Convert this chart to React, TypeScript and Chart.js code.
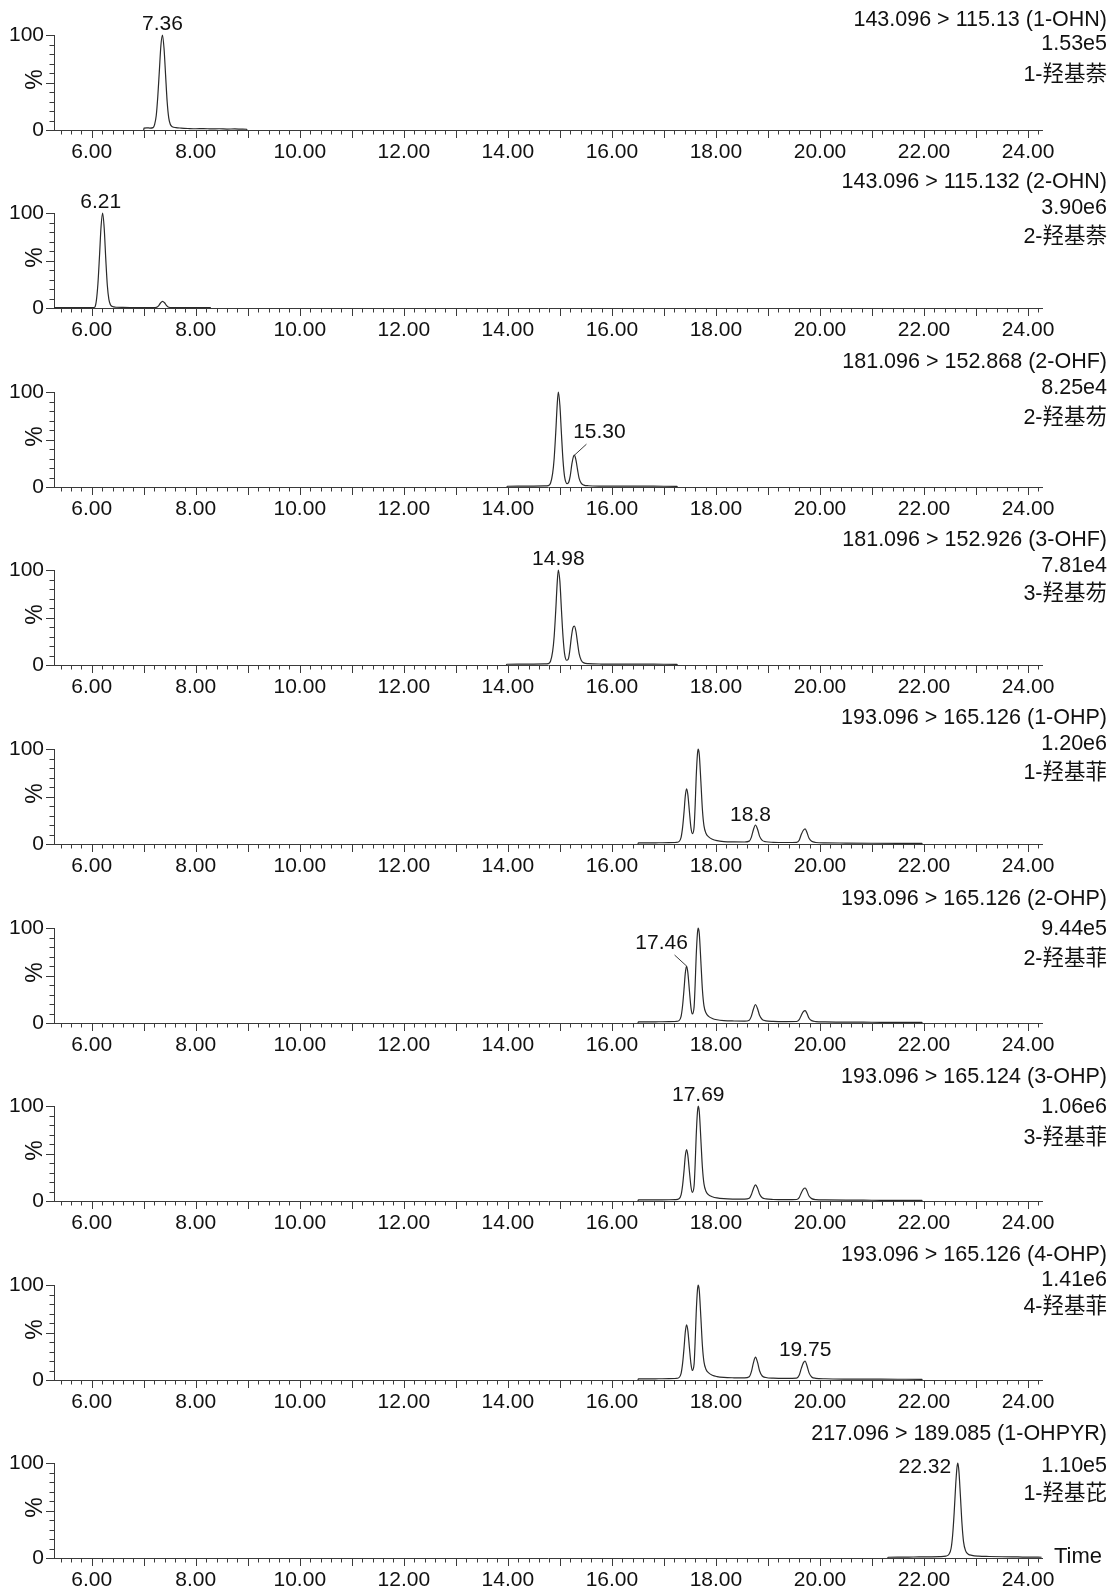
import React, { useEffect, useRef } from 'react';
import { Chart, registerables } from 'chart.js';

Chart.register(...registerables);

type Pt = [number, number];

// ---------------- data ----------------
const TRANSITIONS = [
  '143.096 > 115.13 (1-OHN)',
  '143.096 > 115.132 (2-OHN)',
  '181.096 > 152.868 (2-OHF)',
  '181.096 > 152.926 (3-OHF)',
  '193.096 > 165.126 (1-OHP)',
  '193.096 > 165.126 (2-OHP)',
  '193.096 > 165.124 (3-OHP)',
  '193.096 > 165.126 (4-OHP)',
  '217.096 > 189.085 (1-OHPYR)',
];
const INTENSITIES = ['1.53e5', '3.90e6', '8.25e4', '7.81e4', '1.20e6', '9.44e5', '1.06e6', '1.41e6', '1.10e5'];
const COMPOUNDS = ['1-羟基萘', '2-羟基萘', '2-羟基芴', '3-羟基芴', '1-羟基菲', '2-羟基菲', '3-羟基菲', '4-羟基菲', '1-羟基芘'];

const X_TICK_LABELS = ['6.00', '8.00', '10.00', '12.00', '14.00', '16.00', '18.00', '20.00', '22.00', '24.00'];
const Y_TICK_LABELS = ['0', '100'];
const X_AXIS_TITLE = 'Time';
const Y_AXIS_TITLE = '%';

const TRACE_1OHN: Pt[] = [
  [7.0, 0], [7.005, 2], [7.06, 2.3], [7.12, 2], [7.18, 2.5], [7.21, 6], [7.24, 15], [7.27, 35], [7.3, 62],
  [7.33, 89], [7.36, 100], [7.39, 86], [7.42, 58], [7.45, 30], [7.48, 13], [7.51, 6], [7.55, 3.5],
  [7.62, 2.5], [7.72, 2], [7.85, 1.6], [8.0, 1.3], [8.15, 1.5], [8.3, 1.1], [8.45, 1.3], [8.6, 1],
  [8.75, 1.1], [8.9, 0.9], [8.98, 0.8], [8.985, 0],
];
const TRACE_2OHN: Pt[] = [
  [5.28, 0.3], [5.6, 0.3], [5.9, 0.3], [6.03, 0.4], [6.06, 1], [6.09, 8], [6.12, 26], [6.15, 55],
  [6.18, 86], [6.21, 100], [6.24, 84], [6.27, 52], [6.3, 24], [6.33, 9], [6.36, 3.5], [6.4, 1.5],
  [6.46, 0.8], [6.6, 0.6], [6.8, 0.5], [7.0, 0.4], [7.2, 0.4], [7.24, 0.6], [7.28, 2], [7.32, 5],
  [7.36, 7], [7.4, 5.5], [7.44, 2.5], [7.48, 0.8], [7.55, 0.4], [7.8, 0.3], [8.29, 0.3],
];
const TRACE_2OHF: Pt[] = [
  [13.98, 0], [13.99, 0.8], [14.2, 0.9], [14.5, 1], [14.7, 1.1], [14.78, 1.5], [14.82, 4], [14.86, 14],
  [14.89, 30], [14.92, 57], [14.95, 88], [14.97, 100], [15.0, 86], [15.03, 56], [15.06, 28], [15.09, 11],
  [15.14, 3.5], [15.17, 5], [15.2, 12], [15.23, 24], [15.26, 32], [15.28, 33.5], [15.31, 28], [15.34, 18],
  [15.37, 9], [15.41, 4], [15.46, 2], [15.55, 1.3], [15.8, 1], [16.2, 0.9], [16.6, 0.9], [17.0, 0.8],
  [17.25, 0.7], [17.26, 0],
];
const TRACE_3OHF: Pt[] = [
  [13.97, 0], [13.98, 0.8], [14.2, 0.9], [14.5, 1], [14.7, 1.1], [14.78, 1.5], [14.82, 4], [14.86, 14],
  [14.89, 30], [14.92, 57], [14.95, 88], [14.97, 100], [15.0, 88], [15.03, 58], [15.06, 30], [15.09, 12],
  [15.13, 5], [15.16, 6], [15.19, 15], [15.22, 29], [15.25, 39], [15.28, 41], [15.31, 35], [15.34, 23],
  [15.37, 12], [15.41, 5], [15.46, 2.2], [15.55, 1.4], [15.8, 1], [16.2, 0.9], [16.6, 0.9], [17.0, 0.8],
  [17.25, 0.7], [17.26, 0],
];
const TRACE_1OHP: Pt[] = [
  [16.5, 0], [16.51, 1.2], [16.7, 1.2], [16.9, 1.3], [17.1, 1.4], [17.22, 1.6], [17.29, 2.5], [17.33, 7],
  [17.36, 18], [17.39, 36], [17.41, 50], [17.435, 58], [17.46, 52], [17.49, 34], [17.52, 17], [17.55, 11],
  [17.58, 18], [17.6, 40], [17.62, 70], [17.645, 95], [17.66, 100], [17.68, 94], [17.71, 66], [17.74, 36],
  [17.77, 19], [17.81, 11], [17.86, 7.5], [17.93, 5], [18.02, 3.5], [18.15, 2.6], [18.35, 2.2], [18.55, 2.1],
  [18.64, 3], [18.68, 7], [18.72, 15], [18.76, 20], [18.8, 15.5], [18.84, 8], [18.89, 3.8], [18.96, 2.4],
  [19.1, 1.8], [19.35, 1.6], [19.55, 1.8], [19.6, 4], [19.64, 10], [19.68, 14.5], [19.715, 16], [19.75, 12],
  [19.79, 6], [19.84, 2.8], [19.92, 1.6], [20.1, 1.2], [20.5, 1], [21.0, 0.8], [21.5, 0.7], [21.96, 0.6],
  [21.965, 0],
];
const TRACE_2OHP: Pt[] = [
  [16.5, 0], [16.51, 1.2], [16.7, 1.2], [16.9, 1.3], [17.1, 1.4], [17.22, 1.6], [17.29, 2.5], [17.33, 7],
  [17.36, 19], [17.39, 38], [17.41, 52], [17.435, 60], [17.46, 53], [17.49, 34], [17.52, 16], [17.545, 9.5],
  [17.58, 17], [17.6, 40], [17.62, 70], [17.645, 95], [17.66, 100], [17.68, 94], [17.71, 65], [17.74, 35],
  [17.77, 18], [17.81, 10.5], [17.86, 7], [17.93, 4.8], [18.02, 3.4], [18.15, 2.5], [18.35, 2.1], [18.55, 2],
  [18.64, 3], [18.68, 7], [18.72, 14.5], [18.76, 19.5], [18.8, 15], [18.84, 7.8], [18.89, 3.7], [18.96, 2.3],
  [19.1, 1.7], [19.35, 1.5], [19.55, 1.6], [19.6, 3.5], [19.64, 8], [19.68, 12], [19.715, 13], [19.75, 10],
  [19.79, 5], [19.84, 2.5], [19.92, 1.5], [20.1, 1.1], [20.5, 0.9], [21.0, 0.8], [21.5, 0.7], [21.96, 0.6],
  [21.965, 0],
];
const TRACE_3OHP: Pt[] = [
  [16.5, 0], [16.51, 1.1], [16.7, 1.1], [16.9, 1.2], [17.1, 1.3], [17.22, 1.5], [17.29, 2.4], [17.33, 6.5],
  [17.36, 17], [17.39, 34], [17.41, 47], [17.435, 54], [17.46, 48], [17.49, 31], [17.52, 15], [17.545, 9],
  [17.58, 16], [17.6, 38], [17.62, 68], [17.645, 94], [17.66, 100], [17.68, 94], [17.71, 65], [17.74, 35],
  [17.77, 18], [17.81, 10], [17.86, 6.5], [17.93, 4.5], [18.02, 3.2], [18.15, 2.4], [18.35, 2], [18.55, 1.9],
  [18.64, 2.8], [18.68, 6.5], [18.72, 13], [18.76, 17], [18.8, 13.5], [18.84, 7], [18.89, 3.4], [18.96, 2.2],
  [19.1, 1.6], [19.35, 1.4], [19.55, 1.6], [19.6, 3.6], [19.64, 8.5], [19.68, 12.5], [19.715, 13.7], [19.75, 10.5],
  [19.79, 5.2], [19.84, 2.5], [19.92, 1.4], [20.1, 1.1], [20.5, 0.9], [21.0, 0.8], [21.5, 0.7], [21.96, 0.6],
  [21.965, 0],
];
const TRACE_4OHP: Pt[] = [
  [16.5, 0], [16.51, 1.2], [16.7, 1.2], [16.9, 1.3], [17.1, 1.4], [17.22, 1.6], [17.29, 2.5], [17.33, 7],
  [17.36, 18], [17.39, 36], [17.41, 50], [17.435, 58], [17.46, 52], [17.49, 34], [17.52, 17], [17.545, 10],
  [17.58, 17], [17.6, 40], [17.62, 70], [17.645, 95], [17.66, 100], [17.68, 94], [17.71, 66], [17.74, 36],
  [17.77, 19], [17.81, 11], [17.86, 7.5], [17.93, 5], [18.02, 3.6], [18.15, 2.7], [18.35, 2.3], [18.55, 2.2],
  [18.64, 3.4], [18.68, 8.5], [18.72, 18], [18.76, 24], [18.8, 18.5], [18.84, 9.5], [18.89, 4.2], [18.96, 2.6],
  [19.1, 1.9], [19.35, 1.7], [19.55, 2], [19.6, 5], [19.64, 12], [19.68, 18], [19.715, 20], [19.75, 15],
  [19.79, 7.5], [19.84, 3.2], [19.92, 1.8], [20.1, 1.3], [20.5, 1], [21.0, 0.9], [21.5, 0.8], [21.96, 0.7],
  [21.965, 0],
];
const TRACE_1OHPYR: Pt[] = [
  [21.3, 0], [21.31, 0.8], [21.5, 0.9], [21.7, 1], [21.9, 1.1], [22.1, 1.2], [22.3, 1.4], [22.42, 2],
  [22.48, 4], [22.52, 10], [22.55, 24], [22.58, 48], [22.61, 78], [22.635, 96], [22.65, 100], [22.67, 92],
  [22.7, 65], [22.73, 36], [22.76, 17], [22.8, 7.5], [22.85, 4], [22.92, 2.8], [23.05, 2], [23.25, 1.6],
  [23.5, 1.3], [23.8, 1.1], [24.05, 0.9], [24.26, 0.8],
];

const TRACES: Pt[][] = [
  TRACE_1OHN, TRACE_2OHN, TRACE_2OHF, TRACE_3OHF, TRACE_1OHP, TRACE_2OHP, TRACE_3OHP, TRACE_4OHP, TRACE_1OHPYR,
];

// peak annotations: panel, label text, apex time, apex %
const PEAK_PANEL = [0, 1, 2, 3, 4, 5, 6, 7, 8];
const PEAK_TEXT = ['7.36', '6.21', '15.30', '14.98', '18.8', '17.46', '17.69', '19.75', '22.32'];
const PEAK_TIME = [7.36, 6.21, 15.28, 14.97, 18.76, 17.435, 17.66, 19.715, 22.65];
const PEAK_HEIGHT = [100, 100, 33.5, 100, 20, 60, 100, 20, 100];

// ---------------- layout / style ----------------
const W = 1113;
const FIRST_TOP = 34.6; // y of 100% line of panel 1
const PANEL_STEP = 178.6;
const PLOT_H = 95;
const HEAD = 60;
const X_AXIS_H = 50;
const CANVAS_H = HEAD + PLOT_H + X_AXIS_H;
const PLOT_LEFT = 54;
const PLOT_RIGHT = 1042;
const X_MIN = 5.275;
const X_MAX = 24.268;
const MINOR_STEP_TENTHS = 2;
const FONT = '"Liberation Sans", Arial, Helvetica, sans-serif';
const CJK_FONT = '"Liberation Sans", "Noto Sans CJK SC", sans-serif';
const FONT_SIZE = 21;
const TITLE_FONT_SIZE = 21.5;
const PCT_FONT_SIZE = 23;
const TIME_FONT_SIZE = 22;
const AXIS_COLOR = '#3a3a3a';
const LINE_COLOR = '#2a2a2a';
const TEXT_COLOR = '#111';
const TITLE_RIGHT = 1107;
const TITLE_DY: number[][] = [
  [-15, 9, 40],
  [-31, -5, 24.5],
  [-30, -4, 26],
  [-30, -4, 24.5],
  [-31, -5, 24.5],
  [-29, 1, 31],
  [-29, 1, 32],
  [-30, -5, 22.5],
  [-29, 3, 31],
];
// label center offset from apex pixel, optional leader end offset
const LABEL_LAYOUT: { dx: number; dy: number; leader?: [number, number] }[] = [
  { dx: 0, dy: -11 },
  { dx: -2, dy: -11 },
  { dx: 25, dy: -23, leader: [12, -11] },
  { dx: 0, dy: -11 },
  { dx: -5, dy: -10 },
  { dx: -25, dy: -23, leader: [-12, -11] },
  { dx: 0, dy: -11 },
  { dx: 0, dy: -11 },
  { dx: -33, dy: 4 },
];

const X_TICK_VALUES = X_TICK_LABELS.map(Number);
const Y_TICK_VALUES = Y_TICK_LABELS.map(Number);

function makeDecor(index: number) {
  return {
    id: 'decor' + index,
    afterDraw(chart: any) {
      const { ctx, chartArea } = chart;
      const xs = chart.scales.x;
      const ys = chart.scales.y;
      ctx.save();
      ctx.strokeStyle = AXIS_COLOR;
      ctx.lineWidth = 1;
      ctx.beginPath();
      for (const tk of xs.ticks) {
        const px = Math.round(xs.getPixelForValue(tk.value)) + 0.5;
        const major = Math.abs(tk.value - Math.round(tk.value)) < 1e-6;
        ctx.moveTo(px, chartArea.bottom);
        ctx.lineTo(px, chartArea.bottom + (major ? 8 : 4.5));
      }
      for (const tk of ys.ticks) {
        const py = Math.round(ys.getPixelForValue(tk.value)) + 0.5;
        const major = tk.value % 50 === 0;
        ctx.moveTo(chartArea.left, py);
        ctx.lineTo(chartArea.left - (major ? 8 : 4.5), py);
      }
      ctx.stroke();

      ctx.fillStyle = TEXT_COLOR;
      ctx.textBaseline = 'middle';
      // y title
      ctx.save();
      ctx.font = `${PCT_FONT_SIZE}px ${FONT}`;
      ctx.translate(36, ys.getPixelForValue(50) - 3);
      ctx.rotate(-Math.PI / 2);
      ctx.textAlign = 'center';
      ctx.fillText(Y_AXIS_TITLE, 0, 0);
      ctx.restore();

      // titles
      const y100 = ys.getPixelForValue(100);
      const dy = TITLE_DY[index];
      ctx.textAlign = 'right';
      ctx.font = `${TITLE_FONT_SIZE}px ${FONT}`;
      ctx.fillText(TRANSITIONS[index], TITLE_RIGHT, y100 + dy[0]);
      ctx.fillText(INTENSITIES[index], TITLE_RIGHT, y100 + dy[1]);
      ctx.font = `${TITLE_FONT_SIZE}px ${CJK_FONT}`;
      ctx.fillText(COMPOUNDS[index], TITLE_RIGHT, y100 + dy[2]);

      // peak labels
      ctx.font = `${FONT_SIZE}px ${FONT}`;
      PEAK_PANEL.forEach((p, k) => {
        if (p !== index) return;
        const ax = xs.getPixelForValue(PEAK_TIME[k]);
        const ay = ys.getPixelForValue(PEAK_HEIGHT[k]);
        const lay = LABEL_LAYOUT[k];
        ctx.textAlign = 'center';
        ctx.fillText(PEAK_TEXT[k], ax + lay.dx, ay + lay.dy);
        if (lay.leader) {
          ctx.beginPath();
          ctx.moveTo(ax, ay);
          ctx.lineTo(ax + lay.leader[0], ay + lay.leader[1]);
          ctx.strokeStyle = AXIS_COLOR;
          ctx.stroke();
        }
      });

      if (index === TRACES.length - 1) {
        ctx.textAlign = 'left';
        ctx.font = `${TIME_FONT_SIZE}px ${FONT}`;
        ctx.fillText(X_AXIS_TITLE, chartArea.right + 12, ys.getPixelForValue(0) - 1);
      }
      ctx.restore();
    },
  };
}

function Panel({ index }: { index: number }) {
  const ref = useRef<HTMLCanvasElement>(null);
  useEffect(() => {
    const canvas = ref.current;
    if (!canvas) return;
    const minorTicks: number[] = [];
    const start = Math.ceil((X_MIN * 10) / MINOR_STEP_TENTHS) * MINOR_STEP_TENTHS;
    for (let t = start; t <= X_MAX * 10 + 1e-9; t += MINOR_STEP_TENTHS) minorTicks.push(t / 10);
    const yTicks: number[] = [];
    for (let v = 0; v <= 100; v += 10) yTicks.push(v);

    const chart = new Chart(canvas, {
      type: 'line',
      data: {
        datasets: [
          {
            data: TRACES[index].map(([x, y]) => ({ x, y })),
            borderColor: LINE_COLOR,
            borderWidth: 1.2,
            pointRadius: 0,
            fill: false,
            cubicInterpolationMode: 'monotone',
            clip: false as any,
          },
        ],
      },
      options: {
        responsive: false,
        animation: false,
        devicePixelRatio: 1,
        events: [],
        layout: { padding: { top: HEAD, right: W - PLOT_RIGHT, bottom: 0, left: 0 } },
        plugins: { legend: { display: false }, tooltip: { enabled: false }, title: { display: false } },
        scales: {
          x: {
            type: 'linear',
            min: X_MIN,
            max: X_MAX,
            afterBuildTicks: (s: any) => {
              s.ticks = minorTicks.map((v) => ({ value: v }));
            },
            afterFit: (s: any) => {
              s.height = X_AXIS_H;
            },
            grid: { display: false, drawTicks: false },
            border: { display: true, color: AXIS_COLOR, width: 1 },
            ticks: {
              autoSkip: false,
              maxRotation: 0,
              padding: 10,
              color: TEXT_COLOR,
              font: { family: FONT, size: FONT_SIZE },
              callback: (value: any) => {
                const i = X_TICK_VALUES.findIndex((t) => Math.abs(t - Number(value)) < 1e-6);
                return i >= 0 ? X_TICK_LABELS[i] : '';
              },
            },
          },
          y: {
            type: 'linear',
            min: 0,
            max: 100,
            afterBuildTicks: (s: any) => {
              s.ticks = yTicks.map((v) => ({ value: v }));
            },
            afterFit: (s: any) => {
              s.width = PLOT_LEFT;
            },
            grid: { display: false, drawTicks: false },
            border: { display: true, color: AXIS_COLOR, width: 1 },
            ticks: {
              autoSkip: false,
              padding: 10,
              color: TEXT_COLOR,
              font: { family: FONT, size: FONT_SIZE },
              callback: (value: any) => {
                const i = Y_TICK_VALUES.findIndex((t) => Math.abs(t - Number(value)) < 1e-6);
                return i >= 0 ? Y_TICK_LABELS[i] : '';
              },
            },
          },
        },
      } as any,
      plugins: [makeDecor(index)],
    });
    return () => chart.destroy();
  }, [index]);

  const top = Math.round(FIRST_TOP + index * PANEL_STEP) - HEAD;
  return (
    <canvas
      ref={ref}
      width={W}
      height={CANVAS_H}
      style={{ position: 'absolute', left: 0, top, width: W, height: CANVAS_H, display: 'block' }}
    />
  );
}

export default function App() {
  return (
    <div
      style={{
        position: 'absolute',
        left: 0,
        top: 0,
        width: W,
        height: 1596,
        background: '#fff',
        overflow: 'hidden',
      }}
    >
      {TRACES.map((_, i) => (
        <Panel key={i} index={i} />
      ))}
    </div>
  );
}
